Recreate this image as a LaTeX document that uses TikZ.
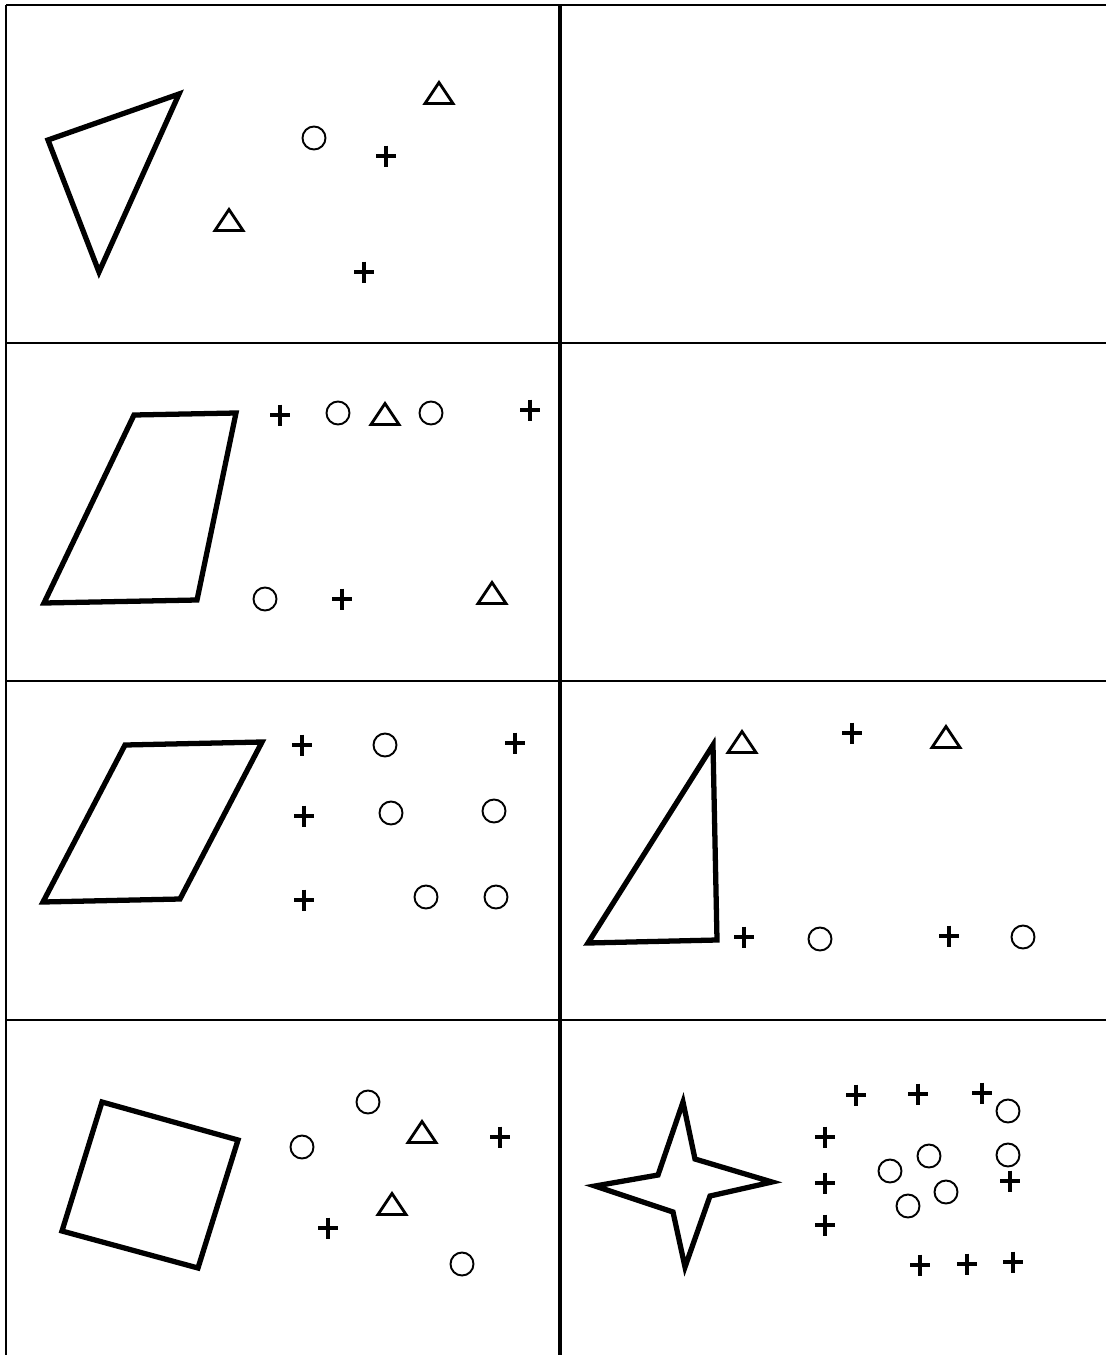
\documentclass[tikz,border=0pt]{standalone}
\usepackage{tikz}
\tikzset{
  gridline/.style={line width=1.5pt, black},
  midline/.style={line width=1.9pt, black},
  figline/.style={line width=3pt, black, line join=miter},
  plusmark/.pic={\draw[line width=2.2pt] (-10,0) -- (10,0) (0,-10.5) -- (0,10.5);},
  ringmark/.pic={\draw[line width=1.1pt] (0,0) circle[radius=0.23cm];},
  trimark/.pic={\draw[line width=1.6pt, line join=miter] (-14,10.5) -- (14,10.5) -- (0,-10.5) -- cycle;}
}

\begin{document}
\begin{tikzpicture}[x=0.02cm, y=-0.02cm]
  \useasboundingbox (0,0) rectangle (1106,1355);

  % Grid
  \draw[gridline] (6,5) -- (1106,5);
  \draw[gridline] (6,5) -- (6,1355);
  \draw[midline] (560,5) -- (560,1355);
  \foreach \y in {343,681,1020}
    \draw[gridline] (6,\y) -- (1106,\y);

  % Row 1
  \draw[figline] (48,140) -- (179,94) -- (99,272) -- cycle;
  \pic at (439,93) {trimark};
  \pic at (229,220) {trimark};
  \pic at (314,138) {ringmark};
  \foreach \p in {(386,156),(364,272)}
    \pic at \p {plusmark};

  % Row 2
  \draw[figline] (134,415) -- (236,413) -- (197,600) -- (44,603) -- cycle;
  \foreach \p in {(280,415),(530,410),(342,599)}
    \pic at \p {plusmark};
  \foreach \p in {(338,413),(431,413),(265,599)}
    \pic at \p {ringmark};
  \pic at (385,414) {trimark};
  \pic at (492,593) {trimark};

  % Row 3, left
  \draw[figline] (125,745) -- (262,742) -- (180,899) -- (43,902) -- cycle;
  \foreach \p in {(302,745),(515,743),(304,816),(304,900)}
    \pic at \p {plusmark};
  \foreach \p in {(385,745),(391,813),(494,811),(426,897),(496,897)}
    \pic at \p {ringmark};

  % Row 3, right
  \draw[figline] (713,745) -- (717,940) -- (588,943) -- cycle;
  \pic at (742,742) {trimark};
  \pic at (946,737) {trimark};
  \foreach \p in {(852,733),(744,937),(949,936)}
    \pic at \p {plusmark};
  \foreach \p in {(820,939),(1023,937)}
    \pic at \p {ringmark};

  % Row 4, left
  \draw[figline] (102,1102) -- (238,1140) -- (198,1268) -- (62,1231) -- cycle;
  \foreach \p in {(368,1102),(302,1147),(462,1264)}
    \pic at \p {ringmark};
  \pic at (422,1132) {trimark};
  \pic at (392,1204) {trimark};
  \foreach \p in {(500,1137),(328,1228)}
    \pic at \p {plusmark};

  % Row 4, right
  \draw[figline] (683,1102) -- (695,1159) -- (772,1182) -- (710,1196)
    -- (685,1267) -- (673,1212) -- (595,1186) -- (658,1175) -- cycle;
  \foreach \p in {(856,1095),(918,1094),(982,1093),(825,1137),(825,1183),
                  (825,1225),(1010,1181),(920,1265),(967,1264),(1013,1262)}
    \pic at \p {plusmark};
  \foreach \p in {(1008,1111),(1008,1155),(929,1156),(890,1171),(946,1192),(908,1206)}
    \pic at \p {ringmark};
\end{tikzpicture}
\end{document}
